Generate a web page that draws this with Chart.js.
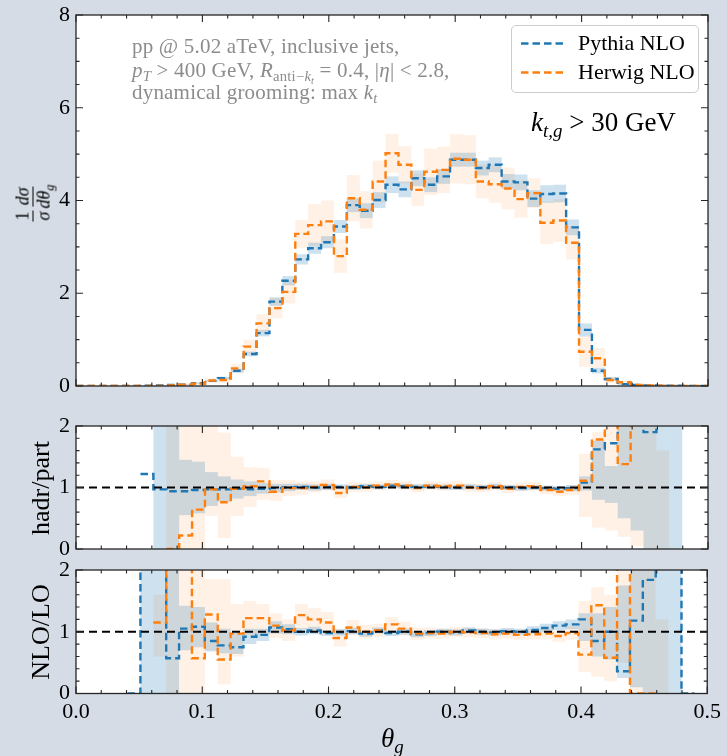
<!DOCTYPE html>
<html><head><meta charset="utf-8">
<script src="https://cdn.jsdelivr.net/npm/chart.js@4.4.0/dist/chart.umd.min.js"></script>
<style>
html,body{margin:0;padding:0}
body{background:#d5dce6;width:727px;height:756px;overflow:hidden;position:relative;font-family:'Liberation Serif','Times New Roman',serif}
canvas{position:absolute;left:0}
.ov{position:absolute;white-space:nowrap;line-height:1;z-index:5}
.ov sub{font-size:70%;vertical-align:-0.3em;line-height:0}
.rot{transform:translate(-50%,-50%) rotate(-90deg);transform-origin:center}
.frac{display:inline-flex;flex-direction:column;align-items:center;vertical-align:middle;margin:0 1px}
.frac span:first-child{border-bottom:1.3px solid #000;padding:0 1px 1px}
.frac span:last-child{padding-top:1px}
.ann{font-size:21px;color:#8c8c8c;letter-spacing:0.2px}
</style></head><body>
<canvas id="c1" width="727" height="413" style="top:-6px"></canvas>
<canvas id="c2" width="727" height="170" style="top:400px"></canvas>
<canvas id="c3" width="727" height="216" style="top:540px"></canvas>

<div class="ov ann" style="left:132px;top:36px">pp @ 5.02 aTeV, inclusive jets,</div>
<div class="ov ann" style="left:132px;top:60px"><i>p</i><sub><i>T</i></sub> &gt; 400 GeV, <i>R</i><sub>anti−<i>k</i><sub><i>t</i></sub></sub> = 0.4, |<i>η</i>| &lt; 2.8,</div>
<div class="ov ann" style="left:132px;top:82px">dynamical grooming: max <i>k</i><sub><i>t</i></sub></div>
<div class="ov" style="left:531px;top:109px;font-size:27px;color:#000"><i>k</i><sub><i>t,g</i></sub> &gt; 30 GeV</div>

<div class="ov" style="left:511px;top:25px;width:186px;height:66px;border:1px solid #cccccc;border-radius:5px;background:rgba(255,255,255,0.85)">
  <svg style="position:absolute;left:9px;top:8px" width="46" height="52">
    <line x1="0" y1="9.5" x2="44" y2="9.5" stroke="#1f77b4" stroke-width="2.4" stroke-dasharray="7.5,4"/>
    <line x1="0" y1="38.5" x2="44" y2="38.5" stroke="#ff7f0e" stroke-width="2.4" stroke-dasharray="7.5,4"/>
  </svg>
  <div style="position:absolute;left:66px;top:6px;font-size:22px;line-height:1">Pythia NLO</div>
  <div style="position:absolute;left:66px;top:35px;font-size:22px;line-height:1">Herwig NLO</div>
</div>

<div class="ov rot" style="left:33px;top:203px;font-size:18px">
  <span class="frac"><span>1</span><span><i>σ</i></span></span><span class="frac"><span><i>dσ</i></span><span><i>dθ</i><sub><i>g</i></sub></span></span>
</div>
<div class="ov rot" style="left:41px;top:488px;font-size:26px">hadr/part</div>
<div class="ov rot" style="left:41px;top:632px;font-size:26px">NLO/LO</div>
<div class="ov" style="left:381px;top:725px;font-size:27px"><i>θ</i><sub><i>g</i></sub></div>

<script>
// ---------------- DATA ----------------
// 49 bins between 0 and 0.5
const binEdges = [0,0.010204,0.020408,0.030612,0.040816,0.051020,0.061224,0.071429,0.081633,0.091837,
  0.102041,0.112245,0.122449,0.132653,0.142857,0.153061,0.163265,0.173469,0.183673,0.193878,
  0.204082,0.214286,0.224490,0.234694,0.244898,0.255102,0.265306,0.275510,0.285714,0.295918,
  0.306122,0.316327,0.326531,0.336735,0.346939,0.357143,0.367347,0.377551,0.387755,0.397959,
  0.408163,0.418367,0.428571,0.438776,0.448980,0.459184,0.469388,0.479592,0.489796,0.5];

// main panel: 1/sigma dsigma/dtheta_g
const pythiaNLO = [0,0,0,0,0.003,0.008,0.012,0.02,0.03,0.06,0.11,0.17,0.33,0.69,1.14,1.82,2.27,2.73,2.97,3.10,
  3.44,3.90,3.78,4.01,4.34,4.24,4.48,4.34,4.52,4.88,4.88,4.70,4.77,4.41,4.39,4.04,4.14,4.15,3.42,
  1.21,0.33,0.15,0.04,0.02,0.01,0.008,0.005,0.003,0.002];
const pythiaErr = [0,0,0,0,0.002,0.004,0.006,0.008,0.01,0.015,0.02,0.03,0.04,0.05,0.07,0.09,0.10,0.11,0.12,0.13,
  0.14,0.15,0.16,0.17,0.18,0.17,0.17,0.16,0.16,0.15,0.15,0.16,0.16,0.16,0.17,0.18,0.19,0.19,0.17,
  0.14,0.06,0.04,0.02,0.01,0.005,0.004,0.003,0.002,0.001];
const herwigNLO = [0,0,0,0,0,0,0.003,0.01,0.03,0.05,0.12,0.13,0.38,0.85,1.35,1.68,2.03,3.28,3.47,3.55,
  2.80,4.05,3.80,4.41,5.02,4.77,4.23,4.62,4.66,4.90,4.88,4.41,4.35,4.26,4.03,4.16,3.52,3.57,3.09,
  0.74,0.60,0.13,0.08,0.02,0.01,0.005,0.003,0.002,0];
const herwigErr = [0,0,0,0,0,0,0.003,0.01,0.02,0.04,0.05,0.06,0.10,0.15,0.20,0.22,0.25,0.30,0.45,0.45,
  0.36,0.50,0.40,0.45,0.42,0.40,0.35,0.50,0.50,0.53,0.53,0.36,0.40,0.45,0.40,0.32,0.46,0.46,0.36,
  0.33,0.22,0.06,0.04,0.02,0.01,0.005,0.003,0.002,0];

// hadr/part ratio
const pythiaHP = [null,null,null,null,null,1.22,0.97,0.94,0.94,0.96,0.97,0.97,0.98,0.97,0.98,0.99,1.00,1.01,1.00,1.01,
  1.01,1.00,1.02,1.01,1.03,1.02,1.01,1.02,1.01,1.00,1.01,1.00,1.02,1.00,0.99,1.00,0.99,0.98,0.99,
  1.08,1.62,1.72,2.4,2.4,1.90,2.4,2.4,null,null];
const pythiaHPlo = [null,null,null,null,null,null,0,0,0.55,0.58,0.70,0.77,0.82,0.86,0.90,0.92,0.94,0.96,0.95,0.96,
  0.97,0.96,0.98,0.97,0.99,0.98,0.97,0.98,0.97,0.96,0.97,0.96,0.98,0.96,0.95,0.96,0.95,0.94,0.94,
  0.95,0.80,0.75,0.50,0.30,0,0,0,null,null];
const pythiaHPhi = [null,null,null,null,null,null,2.5,2.5,1.45,1.42,1.25,1.18,1.13,1.10,1.07,1.06,1.06,1.06,1.05,1.06,
  1.05,1.04,1.06,1.05,1.07,1.06,1.05,1.06,1.05,1.04,1.05,1.04,1.06,1.04,1.03,1.04,1.03,1.02,1.04,
  1.18,1.76,1.35,2.5,2.5,2.5,2.5,2.5,null,null];
const herwigHP = [null,null,null,null,null,null,null,0.0,0.22,0.64,0.97,0.76,0.98,1.02,1.10,0.93,0.99,0.99,1.01,1.04,
  0.91,1.01,1.00,1.03,1.05,1.03,0.99,1.03,1.02,1.03,1.00,0.99,1.02,0.98,1.01,1.02,0.96,0.93,0.96,
  1.11,1.78,2.4,1.38,2.4,null,null,null,null,null];
const herwigHPlo = [null,null,null,null,null,null,null,0,0,0,0.54,0.18,0.54,0.68,0.80,0.78,0.86,0.88,0.92,0.95,
  0.83,0.93,0.93,0.96,0.98,0.96,0.92,0.96,0.95,0.96,0.93,0.92,0.95,0.91,0.94,0.95,0.89,0.86,0.88,
  0.52,0.35,0.30,0.20,0.05,0,0,null,null,null];
const herwigHPhi = [null,null,null,null,null,null,null,2.5,2.5,2.5,2.5,1.89,1.50,1.33,1.32,1.12,1.12,1.10,1.10,1.13,
  0.99,1.09,1.07,1.10,1.12,1.10,1.06,1.10,1.09,1.10,1.07,1.06,1.09,1.05,1.08,1.09,1.03,1.00,1.04,
  1.55,1.90,2.5,2.5,2.5,2.5,1.6,null,null,null];

// NLO/LO ratio
const pythiaNL = [null,null,null,null,0,2.6,2.6,0.57,1.05,1.08,0.85,0.78,0.75,0.92,0.95,1.07,1.04,1.00,1.02,0.98,
  0.99,1.01,0.97,1.02,0.98,1.00,0.96,0.98,1.00,0.99,1.02,1.00,0.99,1.01,1.00,1.03,1.06,1.10,1.12,
  1.20,0.85,1.00,0.36,1.18,1.84,2.6,2.6,0,null];
const pythiaNLlo = [null,null,null,null,null,0,0,0,0.70,0.75,0.68,0.65,0.64,0.80,0.85,0.97,0.96,0.94,0.96,0.93,
  0.94,0.96,0.92,0.97,0.93,0.95,0.91,0.93,0.95,0.94,0.97,0.95,0.94,0.96,0.95,0.97,0.99,1.03,1.04,
  0.85,0.60,0.55,0.25,0.10,0,0,0,null,null];
const pythiaNLhi = [null,null,null,null,null,2.5,2.5,2.5,1.42,1.40,1.15,1.05,0.98,1.05,1.05,1.17,1.12,1.06,1.08,1.03,
  1.04,1.06,1.02,1.07,1.03,1.05,1.01,1.03,1.05,1.04,1.07,1.05,1.04,1.06,1.05,1.09,1.13,1.17,1.20,
  1.30,1.30,1.40,1.75,2.5,2.5,2.5,2.5,null,null];
const herwigNL = [null,null,null,null,null,null,1.15,2.6,2.6,0.57,1.28,0.55,0.97,1.22,1.22,1.10,1.02,1.27,1.20,1.15,
  0.90,1.07,1.00,1.02,1.12,1.05,0.97,0.98,0.97,1.00,0.99,0.98,0.96,0.97,0.95,0.96,0.97,0.93,0.98,
  0.63,1.43,0.58,2.6,0,0,null,null,null,null];
const herwigNLlo = [null,null,null,null,null,null,0.60,0,0,0,0.70,0.15,0.60,0.95,0.95,0.90,0.85,1.05,1.00,0.97,
  0.76,0.95,0.89,0.91,1.00,0.94,0.87,0.89,0.89,0.92,0.91,0.90,0.88,0.89,0.87,0.88,0.88,0.84,0.87,
  0.35,0.27,0.20,0.50,0,0,0,null,null,null];
const herwigNLhi = [null,null,null,null,null,null,1.60,2.5,2.5,2.5,1.85,1.85,1.45,1.50,1.45,1.30,1.20,1.45,1.38,1.32,
  1.05,1.19,1.11,1.13,1.24,1.16,1.07,1.07,1.05,1.08,1.07,1.06,1.04,1.05,1.03,1.04,1.06,1.02,1.09,
  1.50,1.72,1.60,2.5,2.5,2.5,1.2,null,null,null];

const xTicks = [0.0,0.1,0.2,0.3,0.4,0.5];
const mainTicks = [0,2,4,6,8];
const ratioTicks = [0,1,2];

// ---------------- HELPERS ----------------
const BLUE = '#1f77b4', ORANGE = '#ff7f0e';
const BLUE_BAND = 'rgba(31,119,180,0.22)', ORANGE_BAND = 'rgba(255,127,14,0.11)';
const FONT = "'Liberation Serif','Times New Roman',serif";
Chart.defaults.font.family = FONT;
Chart.defaults.color = '#000';

function stepPoints(vals) {
  const pts = [];
  for (let i = 0; i < vals.length; i++) {
    const v = vals[i];
    if (v === null) { pts.push({x: binEdges[i], y: null}); continue; }
    pts.push({x: binEdges[i], y: v}, {x: binEdges[i + 1], y: v});
  }
  return pts;
}
function center(i) { return Math.round((binEdges[i] + binEdges[i + 1]) * 1e6) / 2e6; }
function bandFromErr(vals, err, sign) { return vals.map((v, i) => v + sign * err[i]); }
function bandDS(lo, hi, color, order) {
  const d = [];
  for (let i = 0; i < lo.length; i++) {
    if (lo[i] === null || hi[i] === null || !(hi[i] > lo[i])) continue;
    d.push({x: center(i), y: [lo[i], hi[i]]});
  }
  return {type: 'bar', data: d, backgroundColor: color, borderWidth: 0, barPercentage: 1, categoryPercentage: 1,
    grouped: false, inflateAmount: 0, order, clip: 0};
}
function lineDS(vals, color, order, clip) {
  const ds = {type: 'line', data: stepPoints(vals), borderColor: color, borderWidth: 2.4, borderDash: [7.5, 4],
    pointRadius: 0, fill: false, tension: 0, spanGaps: false, order};
  if (clip !== undefined) ds.clip = clip;
  return ds;
}
function refLine() {
  return {type: 'line', data: [{x: 0, y: 1}, {x: 0.5, y: 1}], borderColor: '#000', borderWidth: 2,
    borderDash: [8, 5], pointRadius: 0, fill: false, order: 0, clip: 0};
}

const framePlugin = {
  id: 'frame',
  beforeDraw(chart) {
    const {ctx, chartArea: a} = chart;
    ctx.save();
    ctx.fillStyle = '#ffffff';
    ctx.fillRect(a.left, a.top, a.right - a.left, a.bottom - a.top);
    ctx.restore();
  },
  afterDraw(chart, args, o) {
    const {ctx, chartArea: a} = chart;
    const x = chart.scales.x, y = chart.scales.y;
    ctx.save();
    ctx.strokeStyle = '#262626';
    ctx.lineWidth = 1.1;
    ctx.beginPath();
    const xt = (step, len) => {
      const n = Math.round((x.max - x.min) / step);
      for (let i = 0; i <= n; i++) {
        const px = x.getPixelForValue(x.min + i * step);
        ctx.moveTo(px, a.bottom); ctx.lineTo(px, a.bottom - len);
        ctx.moveTo(px, a.top); ctx.lineTo(px, a.top + len);
      }
    };
    const yt = (step, len) => {
      const n = Math.round((y.max - y.min) / step);
      for (let i = 0; i <= n; i++) {
        const py = y.getPixelForValue(y.min + i * step);
        ctx.moveTo(a.left, py); ctx.lineTo(a.left + len, py);
        ctx.moveTo(a.right, py); ctx.lineTo(a.right - len, py);
      }
    };
    xt(o.xMajor, 7); xt(o.xMinor, 3.5);
    yt(o.yMajor, 7); yt(o.yMinor, 3.5);
    ctx.stroke();
    ctx.lineWidth = 1.3;
    ctx.strokeRect(a.left, a.top, a.right - a.left, a.bottom - a.top);
    ctx.restore();
  }
};

function makeChart(id, datasets, o) {
  return new Chart(document.getElementById(id), {
    type: 'line',
    data: {datasets},
    plugins: [framePlugin],
    options: {
      responsive: false, animation: false, events: [],
      layout: {padding: {left: 0, right: 19, top: o.padTop, bottom: o.padBottom}},
      plugins: {legend: {display: false}, tooltip: {enabled: false},
        frame: {xMajor: 0.1, xMinor: 0.02, yMajor: o.yMajor, yMinor: o.yMinor}},
      scales: {
        x: {type: 'linear', min: 0, max: 0.5, offset: false, display: o.showX,
          grid: {display: false, drawTicks: false}, border: {display: false},
          afterBuildTicks: s => { s.ticks = xTicks.map(v => ({value: v})); },
          ticks: {autoSkip: false, maxRotation: 0, padding: 6, font: {size: 22}, color: '#000',
            callback: v => Number(v).toFixed(1)},
          afterFit: s => { if (o.xHeight) s.height = o.xHeight; }},
        y: {type: 'linear', min: o.yMin, max: o.yMax,
          grid: {display: false, drawTicks: false}, border: {display: false},
          afterBuildTicks: s => { s.ticks = o.yTicks.map(v => ({value: v})); },
          ticks: {padding: 6, font: {size: 22}, color: '#000'},
          afterFit: s => { s.width = 76; }}
      }
    }
  });
}

// main panel (canvas starts at y=-6, chart area 15..386)
makeChart('c1', [
  lineDS(herwigNLO, ORANGE, 1),
  lineDS(pythiaNLO, BLUE, 2),
  bandDS(bandFromErr(pythiaNLO, pythiaErr, -1), bandFromErr(pythiaNLO, pythiaErr, 1), BLUE_BAND, 5),
  bandDS(bandFromErr(herwigNLO, herwigErr, -1), bandFromErr(herwigNLO, herwigErr, 1), ORANGE_BAND, 6)
], {padTop: 21, padBottom: 21, showX: false, yMin: 0, yMax: 8, yTicks: mainTicks, yMajor: 2, yMinor: 0.5});

// hadr/part
makeChart('c2', [
  refLine(),
  lineDS(herwigHP, ORANGE, 1, 0),
  lineDS(pythiaHP, BLUE, 2, 0),
  bandDS(pythiaHPlo, pythiaHPhi, BLUE_BAND, 5),
  bandDS(herwigHPlo, herwigHPhi, ORANGE_BAND, 6)
], {padTop: 26, padBottom: 21, showX: false, yMin: 0, yMax: 2, yTicks: ratioTicks, yMajor: 1, yMinor: 0.2});

// NLO/LO
makeChart('c3', [
  refLine(),
  lineDS(herwigNL, ORANGE, 1, 0),
  lineDS(pythiaNL, BLUE, 2, 0),
  bandDS(pythiaNLlo, pythiaNLhi, BLUE_BAND, 5),
  bandDS(herwigNLlo, herwigNLhi, ORANGE_BAND, 6)
], {padTop: 30, padBottom: 0, showX: true, xHeight: 62.5, yMin: 0, yMax: 2, yTicks: ratioTicks, yMajor: 1, yMinor: 0.2});
</script>
</body></html>
